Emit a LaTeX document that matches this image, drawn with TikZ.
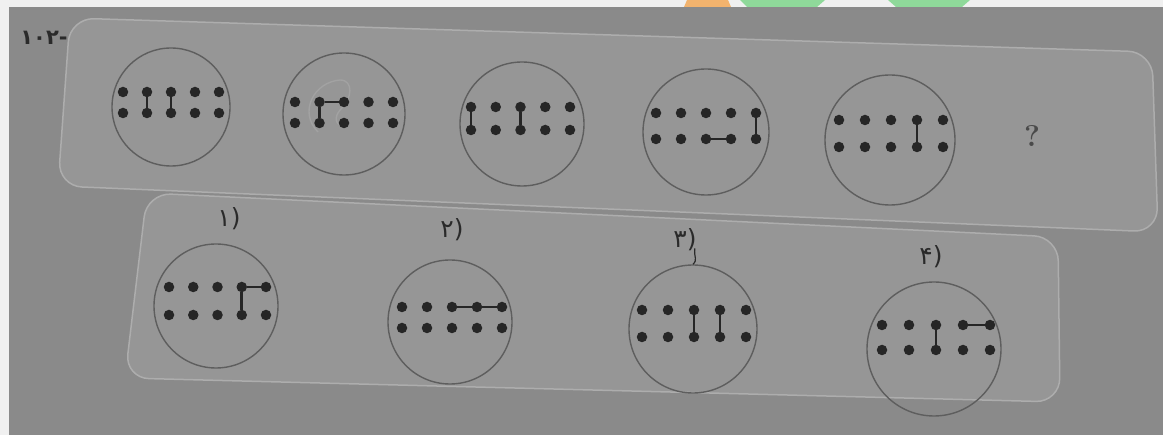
\documentclass[tikz,border=0pt]{standalone}
\usepackage{fontspec}
\newfontfamily\fa{DejaVu Sans}
\definecolor{bg}{HTML}{8A8A8A}
\definecolor{strip}{HTML}{969696}
\definecolor{stripedge}{HTML}{ADADAD}
\definecolor{ringc}{HTML}{5E5E5E}
\definecolor{dotc}{HTML}{262626}
\definecolor{paper}{HTML}{F0F0F0}
\definecolor{labc}{HTML}{2A2A2A}
\definecolor{qc}{HTML}{4A4A4A}
\definecolor{pencil}{HTML}{A2A2A2}
\definecolor{orng}{HTML}{F2B36E}
\definecolor{grn}{HTML}{8FD99A}
\newcommand\dotgrid[5]{%
  \foreach \c in {1,...,5}{%
    \node[dot] (#1-1-\c) at ({#2+(\c-1)*#3},#4) {};
    \node[dot] (#1-2-\c) at ({#2+(\c-1)*#3},#5) {};
  }}
\begin{document}
\begin{tikzpicture}[x=1pt,y=-1pt,
  dot/.style={circle,fill=dotc,draw=none,inner sep=0pt,minimum size=10.5pt},
  link/.style={draw=dotc,line width=2.6pt},
  ring/.style={circle,draw=ringc,line width=1.4pt,inner sep=0pt},
  lbl/.style={text=labc,font=\fa\fontsize{25}{25}\selectfont,inner sep=0pt},
  stripbox/.style={fill=strip,draw=stripedge,line width=1.5pt,rounded corners=24pt}]
\useasboundingbox (0,0) rectangle (1163,435);
\fill[bg] (0,0) rectangle (1163,435);
\fill[paper] (0,0) rectangle (1163,7);
\fill[paper] (0,0) rectangle (9,435);
\fill[orng] (687,0) -- (728,0) -- (731,7) -- (684,7) -- cycle;
\fill[grn] (740,0) -- (825,0) -- (817,7) -- (747,7) -- cycle;
\fill[grn] (888,0) -- (970,0) -- (962,7) -- (896,7) -- cycle;
% strips
\draw[stripbox] (70,18) -- (1152,52) -- (1158,232) -- (58,186) -- cycle;
\draw[stripbox] (147,193) -- (1058,237) -- (1060,402) -- (125,378) -- cycle;
% top row circles
\node[ring,minimum size=118pt] (T1) at (171,107) {};
\node[ring,minimum size=122pt] (T2) at (344,114) {};
\node[ring,minimum size=124pt] (T3) at (522,124) {};
\node[ring,minimum size=126pt] (T4) at (706,132) {};
\node[ring,minimum size=130pt] (T5) at (890,140) {};
% answer circles
\node[ring,minimum size=124pt] (B1) at (216,306) {};
\node[ring,minimum size=124pt] (B2) at (450,322) {};
\node[ring,minimum size=128pt] (B3) at (693,329) {};
\node[ring,minimum size=134pt] (B4) at (934,349) {};
% pencil mark in T2
\draw[pencil,line width=1.4pt] (318,132) .. controls (298,112) and (314,82) .. (340,80)
  .. controls (354,80) and (352,99) .. (341,109) .. controls (333,117) and (335,128) .. (347,125);
% dots
\dotgrid{T1}{123}{24}{92}{113}
\dotgrid{T2}{295}{24.5}{102}{123}
\dotgrid{T3}{471}{24.75}{107}{130}
\dotgrid{T4}{656}{25}{113}{139}
\dotgrid{T5}{839}{26}{120}{147}
\dotgrid{B1}{169}{24.25}{287}{315}
\dotgrid{B2}{402}{25}{307}{328}
\dotgrid{B3}{642}{26}{310}{337}
\dotgrid{B4}{882}{27}{325}{350}
% links
\draw[link] (T1-1-2) -- (T1-2-2);
\draw[link] (T1-1-3) -- (T1-2-3);
\draw[link] (T2-1-2) -- (T2-1-3);
\draw[link] (T2-1-2) -- (T2-2-2);
\draw[link] (T3-1-1) -- (T3-2-1);
\draw[link] (T3-1-3) -- (T3-2-3);
\draw[link] (T4-2-3) -- (T4-2-4);
\draw[link] (T4-1-5) -- (T4-2-5);
\draw[link] (T5-1-4) -- (T5-2-4);
\draw[link] (B1-1-4) -- (B1-1-5);
\draw[link] (B1-1-4) -- (B1-2-4);
\draw[link] (B2-1-3) -- (B2-1-4);
\draw[link] (B2-1-4) -- (B2-1-5);
\draw[link] (B3-1-3) -- (B3-2-3);
\draw[link] (B3-1-4) -- (B3-2-4);
\draw[link] (B4-1-3) -- (B4-2-3);
\draw[link] (B4-1-4) -- (B4-1-5);
% labels
\node[lbl,font=\fa\bfseries\fontsize{21}{21}\selectfont] (num) at (44,38) {۱۰۲-};
\node[text=qc,font=\bfseries\fontsize{30}{30}\selectfont,inner sep=0pt] (q) at (1032,136) {?};
\node[lbl] (L1) at (229,219) {۱)};
\node[lbl] (L2) at (452,230) {۲)};
\node[lbl] (L3) at (685,240) {۳)};
\node[lbl] (L4) at (931,257) {۴)};
\draw[labc,line width=1.2pt] ([xshift=-2pt,yshift=3pt]L3.south east) .. controls +(-1,10) and +(5,-5) .. (B3.north);
\end{tikzpicture}
\end{document}
